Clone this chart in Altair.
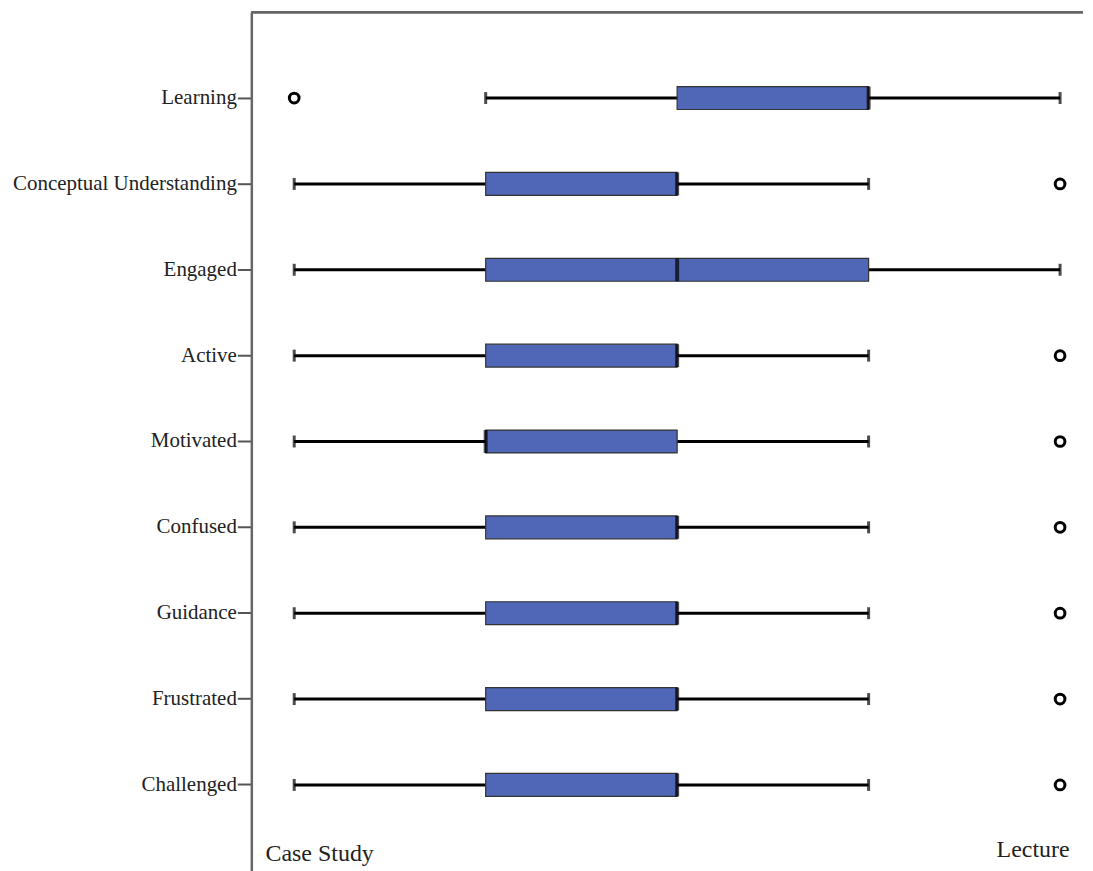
import altair as alt
import pandas as pd

categories = ["Learning", "Conceptual Understanding", "Engaged", "Active", "Motivated",
              "Confused", "Guidance", "Frustrated", "Challenged"]
whisker_low = [2, 1, 1, 1, 1, 1, 1, 1, 1]
q1 = [3, 2, 2, 2, 2, 2, 2, 2, 2]
median = [4, 3, 3, 3, 2, 3, 3, 3, 3]
q3 = [4, 3, 4, 3, 3, 3, 3, 3, 3]
whisker_high = [5, 4, 5, 4, 4, 4, 4, 4, 4]
outliers = [1, 5, None, 5, 5, 5, 5, 5, 5]

anchor_labels = ["Case Study", "Lecture"]
anchor_x = [0.85, 5.05]
anchor_align = ["left", "right"]

df = pd.DataFrame({
    "cat": categories, "lo": whisker_low, "q1": q1, "med": median,
    "q3": q3, "hi": whisker_high, "out": outliers,
})
out_df = df.dropna(subset=["out"])
ann = pd.DataFrame({"label": anchor_labels, "x": anchor_x, "align": anchor_align})

FONT = "Liberation Serif"
W = 834
H = 861
xdom = [0.776, 0.776 + W / 192.0]

xs = alt.Scale(domain=xdom, nice=False, zero=False)
ys = alt.Scale(domain=categories, paddingInner=0, paddingOuter=0.5)

yenc = alt.Y("cat:N", scale=ys, sort=categories,
             axis=alt.Axis(title=None, labelFont=FONT, labelFontSize=21, labelColor="#222",
                           labelPadding=1, tickSize=14, tickColor="#555", tickWidth=2,
                           domainColor="#666", domainWidth=2.5, labelLimit=400))

base = alt.Chart(df)

whisk = base.mark_rule(color="black", strokeWidth=3).encode(
    x=alt.X("lo:Q", scale=xs, axis=None), x2="hi:Q", y=yenc)

caps_lo = base.mark_tick(color="black", thickness=3, size=12, orient="vertical").encode(
    x=alt.X("lo:Q", scale=xs), y=alt.Y("cat:N", scale=ys, sort=categories))
caps_hi = base.mark_tick(color="black", thickness=3, size=12, orient="vertical").encode(
    x=alt.X("hi:Q", scale=xs), y=alt.Y("cat:N", scale=ys, sort=categories))

box = base.mark_bar(color="#4F67B6", stroke="#333", strokeWidth=1.2, size=23).encode(
    x=alt.X("q1:Q", scale=xs), x2="q3:Q", y=alt.Y("cat:N", scale=ys, sort=categories))

med = base.mark_tick(color="black", thickness=4, size=23, orient="vertical").encode(
    x=alt.X("med:Q", scale=xs), y=alt.Y("cat:N", scale=ys, sort=categories))

pts = alt.Chart(out_df).mark_point(shape="circle", filled=False, color="black",
                                   strokeWidth=3, size=95, opacity=1).encode(
    x=alt.X("out:Q", scale=xs), y=alt.Y("cat:N", scale=ys, sort=categories))

txt_l = alt.Chart(ann[ann["align"] == "left"]).mark_text(
    font=FONT, fontSize=24, color="#222", align="left", baseline="alphabetic").encode(
    x=alt.X("x:Q", scale=xs), y=alt.value(851), text="label:N")
txt_r = alt.Chart(ann[ann["align"] == "right"]).mark_text(
    font=FONT, fontSize=24, color="#222", align="right", baseline="alphabetic").encode(
    x=alt.X("x:Q", scale=xs), y=alt.value(847), text="label:N")

top_line = alt.Chart(ann).mark_rule(color="#666", strokeWidth=2.5).encode(
    x=alt.value(0), x2=alt.value(W), y=alt.value(0))

chart = alt.layer(whisk, caps_lo, caps_hi, box, med, pts, txt_l, txt_r, top_line).properties(
    width=W, height=H,
    padding={"left": 4, "top": 1, "right": 0, "bottom": 0},
    background="white",
).configure_view(stroke=None)

chart.save("out.html", embed_options={"renderer": "svg", "actions": False})
